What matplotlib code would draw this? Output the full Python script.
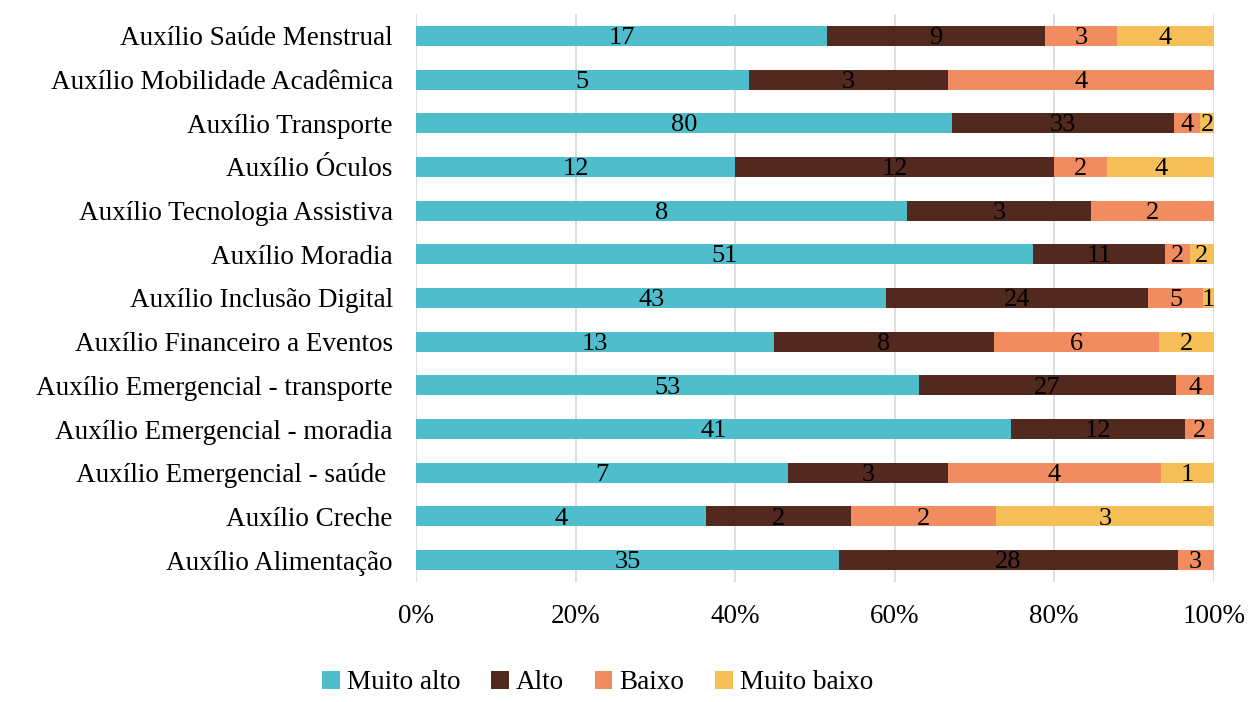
import numpy as np
import matplotlib.pyplot as plt

plt.rcParams['font.family'] = ['Liberation Serif', 'DejaVu Serif']

categorias = ["Auxílio Saúde Menstrual", "Auxílio Mobilidade Acadêmica",
              "Auxílio Transporte", "Auxílio Óculos",
              "Auxílio Tecnologia Assistiva", "Auxílio Moradia",
              "Auxílio Inclusão Digital", "Auxílio Financeiro a Eventos",
              "Auxílio Emergencial - transporte", "Auxílio Emergencial - moradia",
              "Auxílio Emergencial - saúde ", "Auxílio Creche",
              "Auxílio Alimentação"]
muito_alto = [17, 5, 80, 12, 8, 51, 43, 13, 53, 41, 7, 4, 35]
alto = [9, 3, 33, 12, 3, 11, 24, 8, 27, 12, 3, 2, 28]
baixo = [3, 4, 4, 2, 2, 2, 5, 6, 4, 2, 4, 2, 3]
muito_baixo = [4, 0, 2, 4, 0, 2, 1, 2, 0, 0, 1, 3, 0]

series = [("Muito alto", muito_alto, "#4FBDCB"),
          ("Alto", alto, "#51291E"),
          ("Baixo", baixo, "#F08C5F"),
          ("Muito baixo", muito_baixo, "#F5BE56")]

totais = np.sum([np.array(s[1]) for s in series], axis=0)
y = np.arange(len(categorias))

fig = plt.figure(figsize=(12.5, 7.02), dpi=100)
ax = fig.add_axes([0.333, 0.171, 0.638, 0.809])

esq = np.zeros(len(categorias))
for nome, vals, cor in series:
    vals = np.array(vals, dtype=float)
    frac = vals / totais
    ax.barh(y, frac, left=esq, height=0.46, color=cor, label=nome, zorder=3)
    for i in range(len(vals)):
        if vals[i] > 0:
            ax.text(esq[i] + frac[i] / 2, y[i] + 0.05, "%d" % vals[i], ha="center",
                    va="center", fontsize=19, color="black", zorder=4)
    esq += frac

ax.set_xlim(0, 1)
ax.set_ylim(len(categorias) - 0.5, -0.5)
ax.set_yticks(y)
ax.set_yticklabels(categorias, fontsize=19.5)
ax.set_xticks(np.linspace(0, 1, 6))
ax.set_xticklabels(["0%", "20%", "40%", "60%", "80%", "100%"], fontsize=19.5)
ax.tick_params(length=0)
ax.tick_params(axis="y", pad=17)
ax.tick_params(axis="x", pad=16)
ax.grid(axis="x", color="#D9D9D9", linewidth=1.2, zorder=0)
for s in ax.spines.values():
    s.set_visible(False)

fig.legend(loc="lower center", bbox_to_anchor=(0.478, -0.025), ncol=4,
           frameon=False, fontsize=19.5, handlelength=0.65, handleheight=0.65,
           handletextpad=0.25, columnspacing=1.15)

fig.savefig("out.png", dpi=100)
